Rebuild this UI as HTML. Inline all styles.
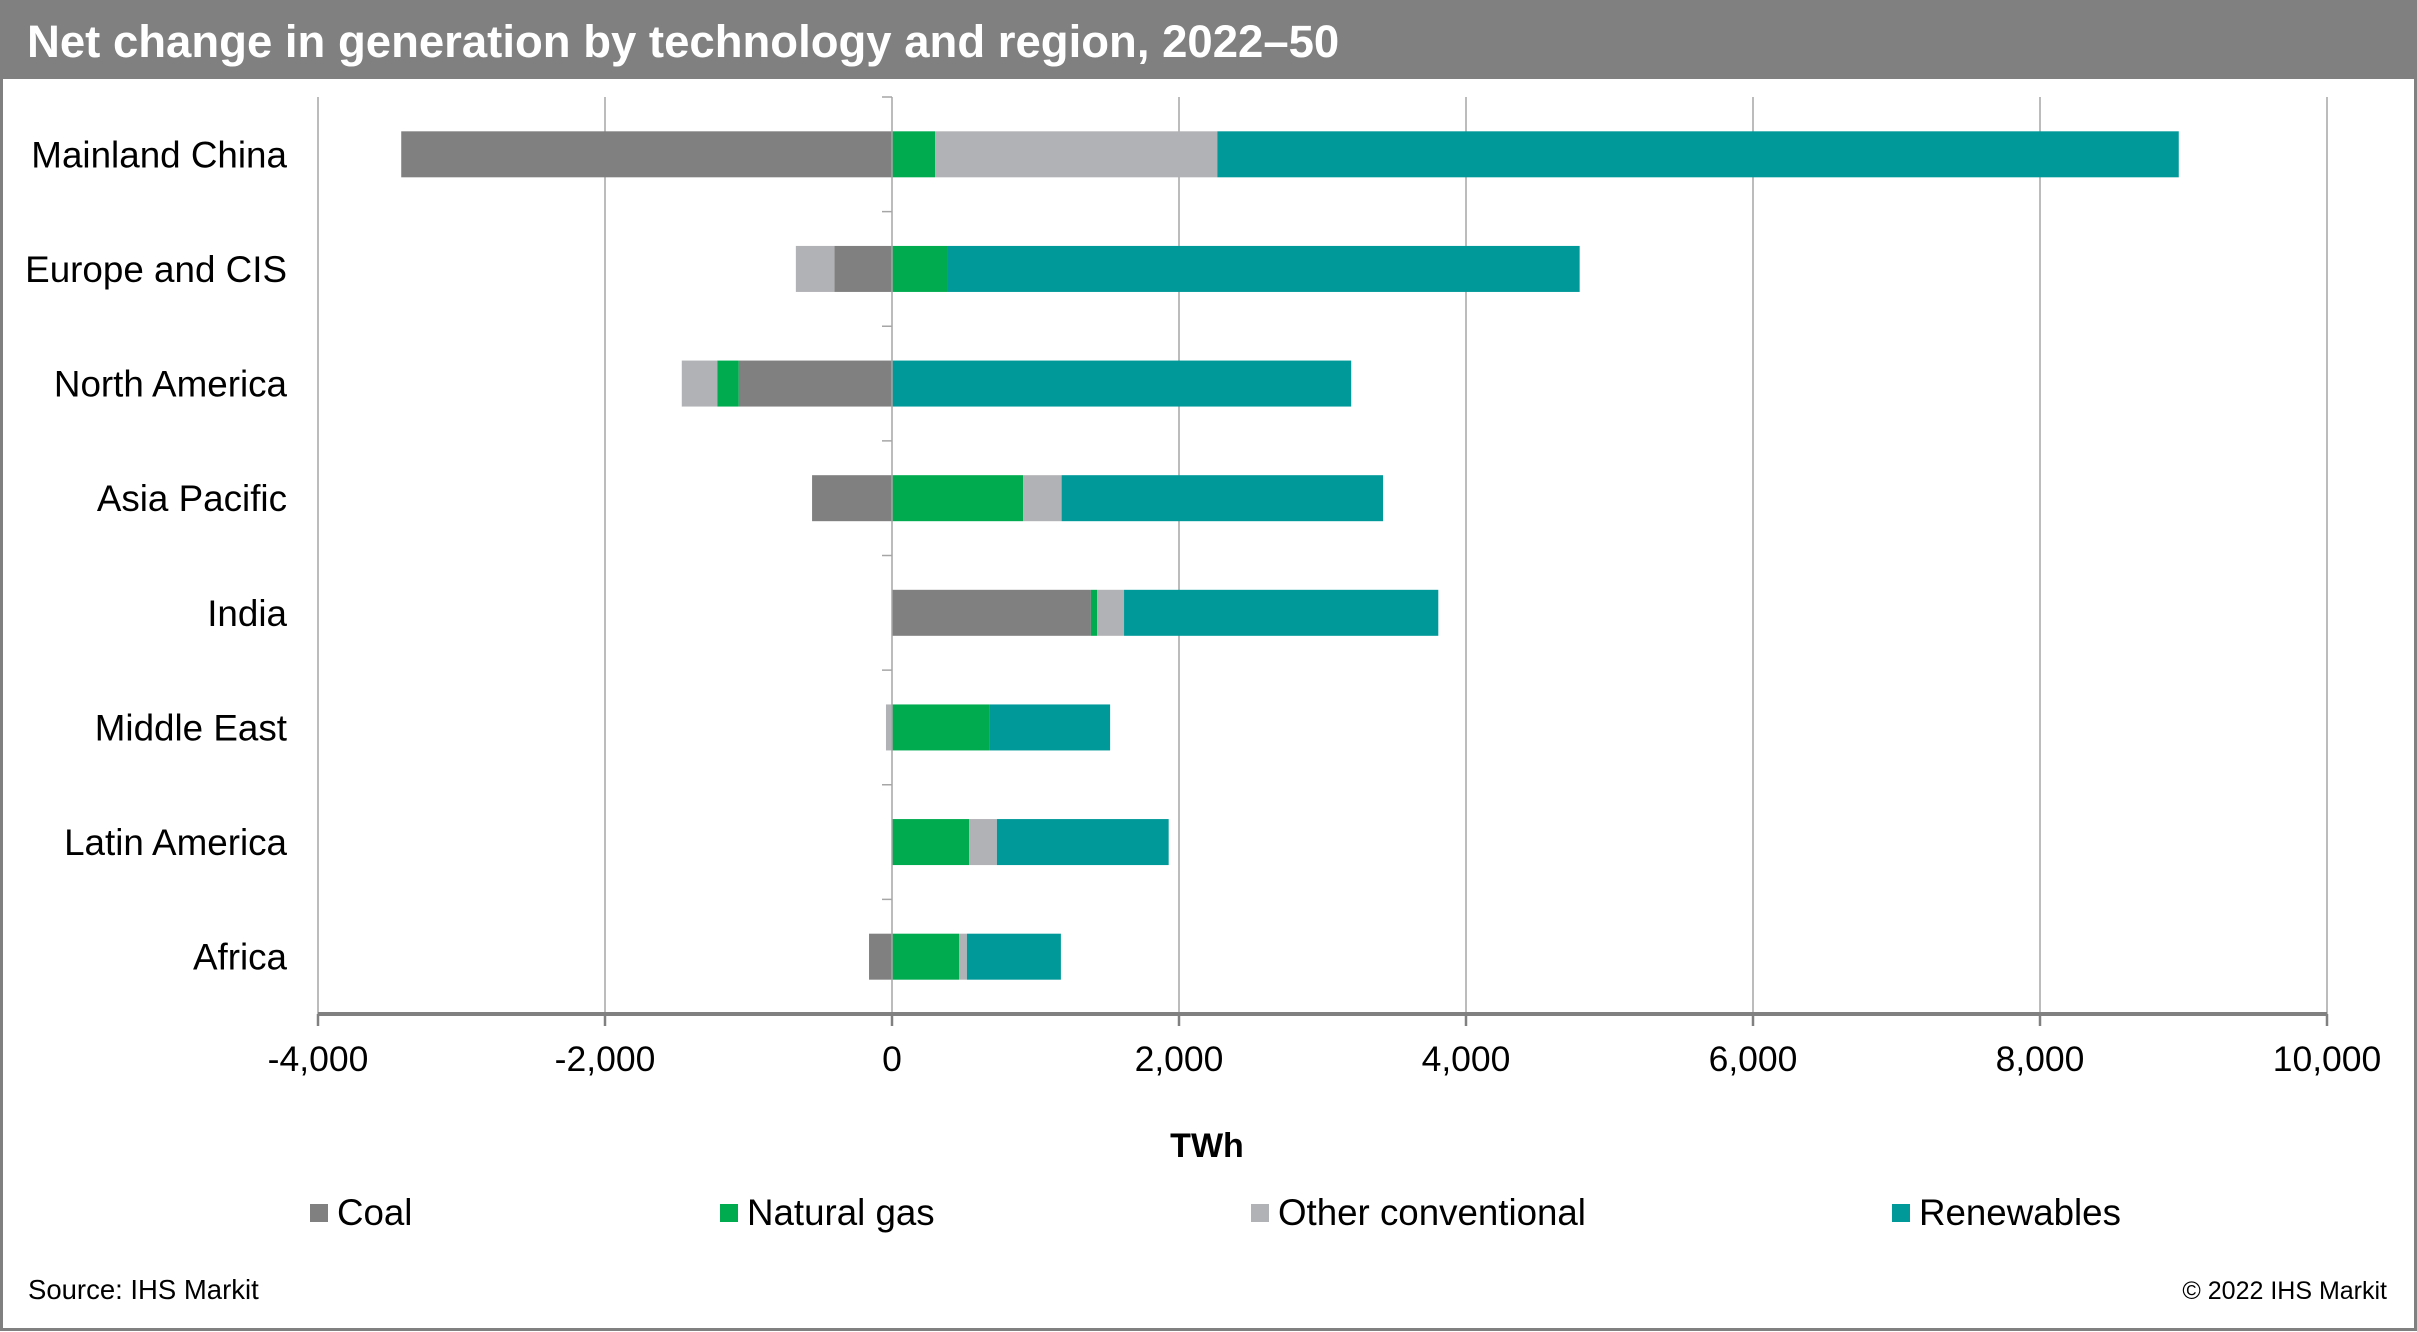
<!DOCTYPE html>
<html><head><meta charset="utf-8"><style>
html,body{margin:0;padding:0;background:#fff}
svg{display:block}
text{font-family:"Liberation Sans",Arial,sans-serif}
</style></head><body>
<svg id="chart" width="2417" height="1332" viewBox="0 0 2417 1332" xmlns="http://www.w3.org/2000/svg">
<rect x="1.5" y="1.5" width="2414" height="1328" fill="#fff" stroke="#808080" stroke-width="3"/>
<rect x="0" y="0" width="2417" height="79" fill="#808080"/>
<text x="27" y="57" font-size="45.5" font-weight="bold" fill="#fff">Net change in generation by technology and region, 2022–50</text>
<g id="grid"></g><g id="bars"></g><g id="axes"></g>
<text x="1207" y="1157" font-size="34" font-weight="bold" text-anchor="middle" fill="#000">TWh</text>
<g id="legend"></g>
<text x="28" y="1299" font-size="27.5" fill="#000">Source: IHS Markit</text>
<text x="2387" y="1299" font-size="25" fill="#000" text-anchor="end">© 2022 IHS Markit</text>
</svg>
<script>
const categories = ["Mainland China","Europe and CIS","North America","Asia Pacific","India","Middle East","Latin America","Africa"];
const seriesNames = ["Coal","Natural gas","Other conventional","Renewables"];
const coal = [-3420,-402,-1068,-557,1386,0,0,-160];
const gas = [300,387,-150,914,44,677,537,467];
const other = [1967,-268,-247,268,187,-42,194,55];
const renewables = [6700,4405,3200,2240,2190,843,1197,655];
const xTicks = [-4000,-2000,0,2000,4000,6000,8000,10000];
const xTickLabels = ["-4,000","-2,000","0","2,000","4,000","6,000","8,000","10,000"];

const NS="http://www.w3.org/2000/svg";
const colors=["#808080","#00AA4F","#B1B2B5","#009999"];
const X0=318,X1=2327,XMIN=-4000,XMAX=10000,YT=97,YB=1014;
function xs(v){return X0+(v-XMIN)/(XMAX-XMIN)*(X1-X0);}
const band=(YB-YT)/categories.length;
function yc(i){return YT+band*(i+0.5);}
function mk(tag,attrs,parent){const e=document.createElementNS(NS,tag);for(const k in attrs)e.setAttribute(k,attrs[k]);parent.appendChild(e);return e;}
const grid=document.getElementById('grid'),bars=document.getElementById('bars'),axes=document.getElementById('axes'),legend=document.getElementById('legend');
xTicks.forEach((t,i)=>{
  if(t!==0){const l=mk('line',{x1:xs(t),x2:xs(t),y1:YT,y2:YB,stroke:'#A6A6A6','stroke-width':1.5},grid);
  
  }
  const tk=mk('line',{x1:xs(t),x2:xs(t),y1:YB,y2:YB+12,stroke:'#808080','stroke-width':2.5},axes);
  
  
  const tx=mk('text',{x:xs(t),y:1071,'font-size':35.5,'text-anchor':'middle',fill:'#000'},axes);
  tx.textContent=xTickLabels[i];
  
  
});
const series=[coal,gas,other,renewables];
categories.forEach((c,i)=>{
  let pos=0,neg=0;const h=46;
  series.forEach((s,j)=>{
    const v=s[i];if(!v)return;let a,b;
    if(v>0){a=pos;b=pos+v;pos=b;}else{a=neg+v;b=neg;neg=a;}
    const r=mk('rect',{x:xs(a),y:yc(i)-h/2,width:xs(b)-xs(a),height:h,fill:colors[j]},bars);
    
    
  });
  const t=mk('text',{x:287,y:yc(i)+13,'font-size':36.8,'text-anchor':'end',fill:'#000'},axes);
  t.textContent=c;
  
  
});
const zl=mk('line',{x1:xs(0),x2:xs(0),y1:YT,y2:YB,stroke:'#A6A6A6','stroke-width':1.5},axes);


for(let i=0;i<=categories.length;i++){
  const l=mk('line',{x1:xs(0)-10,x2:xs(0),y1:YT+band*i,y2:YT+band*i,stroke:'#A6A6A6','stroke-width':1.5},axes);
  
  
}
const xa=mk('line',{x1:X0,x2:X1,y1:YB,y2:YB,stroke:'#808080','stroke-width':4},axes);


const lx=[310,720,1251,1892];
seriesNames.forEach((n,j)=>{
  const g=mk('g',{},legend);
  
  
  mk('rect',{x:lx[j],y:1204,width:18,height:18,fill:colors[j]},g);
  const t=mk('text',{x:lx[j]+27,y:1225,'font-size':36.7,fill:'#000'},g);
  t.textContent=n;
});
</script>
</body></html>
